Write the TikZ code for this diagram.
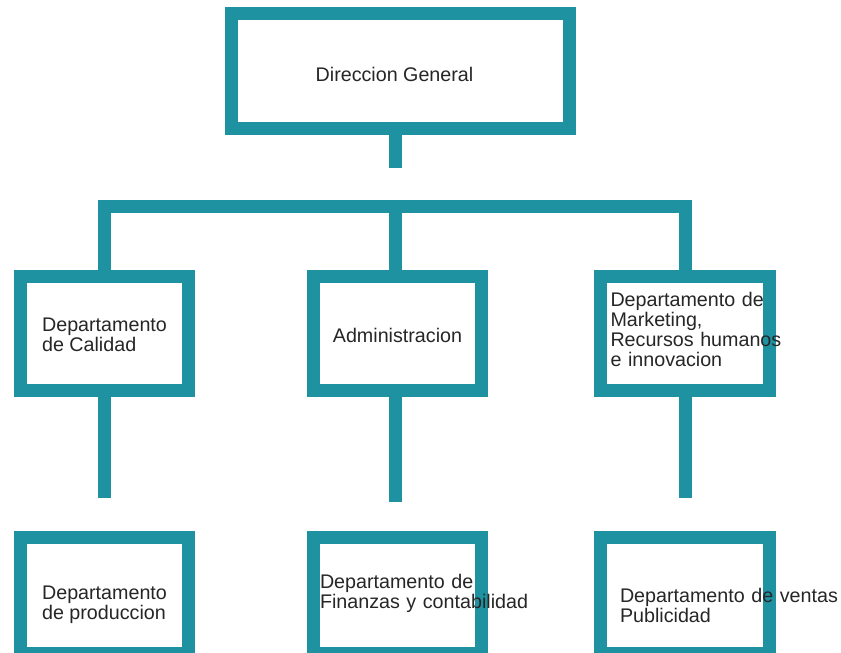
\documentclass[tikz,border=0pt]{standalone}
\usepackage{fontspec}
\setmainfont{Liberation Sans}
\usepackage{tikz}
\usetikzlibrary{positioning, calc}
\definecolor{teal}{RGB}{30,146,161}
\definecolor{inktext}{RGB}{38,38,38}
% invisible struts to nudge text up or down inside a frame
\newcommand{\padtop}[1]{\rule{0pt}{#1}}
\newcommand{\padbot}[1]{\rule[-#1]{0pt}{#1}}
\tikzset{
  orgchart/.style={
	x=1pt, y=-1pt, % one unit per pixel, y grows downwards
	line width=13pt, % very thick frames and links
	line join=miter, line cap=butt,
	draw=teal,
  },
  orgbox/.style={
	draw=teal, line width=13pt, % frame of each department
	rectangle, fill=white,
	minimum width=168pt, minimum height=114pt,
	align=left, text=inktext,
	font=\fontsize{19.7}{20}\selectfont, % text size and line spacing
	inner xsep=6pt, inner ysep=4pt,
  },
}

\begin{document}
\begin{tikzpicture}[orgchart]
	  \useasboundingbox (0,0) rectangle (841,653);
	  \clip (0,0) rectangle (841,653);

	  \node[orgbox, minimum width=338pt, minimum height=115pt] (dg) at (400.5,71) {\padtop{22pt}Direccion General\hspace*{12pt}};

	  \node[orgbox] (calidad) at (104.5,333.5) {\padtop{16pt}Departamento\\de Calidad};
	  \node[orgbox] (admin) at (397.5,333.5) {\padtop{18pt}Administracion};
	  \node[orgbox, minimum width=169pt, inner xsep=10pt, text width=149pt] (marketing) at (685,333.5)
		{\mbox{Departamento de}\\\mbox{Marketing,}\\\mbox{Recursos humanos}\\\mbox{e innovacion\padbot{8pt}}};

	  \node[orgbox, minimum height=116pt] (produccion) at (104.5,595.5) {\padtop{32pt}Departamento\\de produccion};
	  \node[orgbox, minimum height=116pt, inner xsep=6.5pt, text width=155pt] (finanzas) at (397.5,595.5)
		{\mbox{Departamento de}\\\mbox{Finanzas y contabilidad\padbot{9pt}}};
	  \node[orgbox, minimum width=169pt, minimum height=116pt, inner xsep=19.5pt, text width=130pt] (ventas) at (685,595.5)
		{\mbox{\padtop{34pt}Departamento de ventas}\\\mbox{Publicidad}};

	  % free ends of the short links
	  \coordinate (topstub) at (395,168);
	  \coordinate (bar) at (395,206.5);
	  \coordinate (leftstub) at (104.5,498);
	  \coordinate (midstub) at (395,502);
	  \coordinate (rightstub) at (685,498);

	  \draw (topstub |- dg.south) -- (topstub);
	  \draw (calidad.north) |- (bar) -| (marketing.north);
	  \draw (bar) -- (bar |- admin.north);
	  \draw (calidad.south) -- (leftstub);
	  \draw (midstub |- admin.south) -- (midstub);
	  \draw (marketing.south) -- (rightstub);
\end{tikzpicture}
\end{document}
